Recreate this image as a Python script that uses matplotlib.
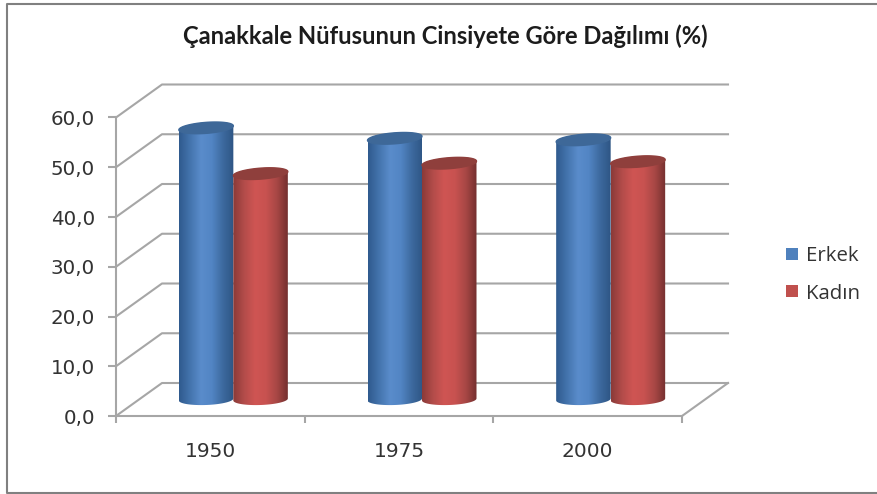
import numpy as np
import matplotlib
matplotlib.use('Agg')
import matplotlib.pyplot as plt
from matplotlib.colors import LinearSegmentedColormap
from matplotlib.patches import Patch, PathPatch
from matplotlib.path import Path

years = ['1950', '1975', '2000']
erkek = [54.6, 52.5, 52.2]
kadin = [45.4, 47.5, 47.8]
yticks = [0, 10, 20, 30, 40, 50, 60]
ylabels = ['0,0', '10,0', '20,0', '30,0', '40,0', '50,0', '60,0']
title = 'Çanakkale Nüfusunun Cinsiyete Göre Dağılımı (%)'

W, H = 877, 494
fig = plt.figure(figsize=(W / 100, H / 100), dpi=100)
ax = fig.add_axes([116 / W, (H - 416) / H, 566 / W, 298.5 / H])
ax.set_facecolor('none')

# depth of the fake 3d box, in data units
dx = 46 / 566 * 3
dy = 33 / 298.5 * 60
bar_w = 54.5 / 566 * 3
rx = bar_w / 2
ry = 5.5 / 298.5 * 60
shear = 2 / 298.5 * 60
GRID = '#a6a6a6'
LW = 1.5

for v in yticks:
    ax.plot([0, dx, 3 + dx], [v, v + dy, v + dy], color=GRID, lw=LW, clip_on=False, zorder=1)
ax.plot([3, 3 + dx], [0, dy], color=GRID, lw=LW, clip_on=False, zorder=1)


def cylinder(x0, val, colors, top):
    t = np.linspace(np.pi, 2 * np.pi, 40)
    cy = dy / 2
    bx = x0 + rx * np.cos(t)
    by = cy + ry * np.sin(t) + shear * 0.5 * np.cos(t)
    tx = bx[::-1]
    ty = val + dy / 2 - ry * np.sin(t)[::-1] + shear * np.cos(t)[::-1]
    verts = np.vstack([np.c_[bx, by], np.c_[tx, ty], [[bx[0], by[0]]]])
    body = PathPatch(Path(verts), fc='none', ec='none', transform=ax.transData)
    ax.add_patch(body)
    cmap = LinearSegmentedColormap.from_list('c', colors)
    grad = np.linspace(0, 1, 128).reshape(1, -1)
    im = ax.imshow(grad, cmap=cmap, aspect='auto', zorder=3,
                   extent=[x0 - rx, x0 + rx, -5, val + 15], clip_on=True)
    im.set_clip_path(body)
    t2 = np.linspace(0, 2 * np.pi, 80)
    ex = x0 + rx * np.cos(t2)
    ey = val + dy / 2 + ry * np.sin(t2) + shear * np.cos(t2)
    ax.fill(ex, ey, color=top, zorder=3, clip_on=False)


blue = ['#2f5a8e', '#4474ad', '#5a8ccb', '#5285c4', '#3d6a9f', '#2e5584']
red = ['#8a3a38', '#b34c4a', '#cf5553', '#c85250', '#a84745', '#74302f']

for i in range(len(years)):
    c = i + 0.5 + dx / 2
    cylinder(c - rx, erkek[i], blue, '#3e6898')
    cylinder(c + rx, kadin[i], red, '#8f3f3c')

ax.set_xlim(0, 3)
ax.set_ylim(0, 60)

for s in ['top', 'right']:
    ax.spines[s].set_visible(False)
for s in ['left', 'bottom']:
    ax.spines[s].set_color(GRID)
    ax.spines[s].set_linewidth(LW)
    ax.spines[s].set_zorder(4)

ax.set_yticks(yticks)
ax.set_yticklabels(ylabels, fontsize=14.3, color='#333333')
ax.tick_params(axis='y', length=6, width=LW, color=GRID, pad=9)
ax.set_xticks([0, 1, 2, 3])
ax.set_xticklabels([])
ax.set_xticks([0.5, 1.5, 2.5], minor=True)
ax.set_xticklabels(years, minor=True, fontsize=14.5, color='#333333')
ax.tick_params(axis='x', which='minor', length=0, pad=19)
ax.tick_params(axis='x', which='major', length=5, width=LW, color=GRID)

fig.text(445.5 / W, 1 - 36 / H, title, ha='center', va='center', fontsize=17.1,
         family='Lato', weight='bold', color='#1c1c1c')

handles = [Patch(fc='#4f81bd', ec='none'), Patch(fc='#c0504d', ec='none')]
fig.legend(handles, ['Erkek', 'Kadın'], loc='center left', bbox_to_anchor=(786 / W, 1 - 275 / H),
           frameon=False, prop={'family': 'Open Sans', 'size': 14.7}, labelcolor='#333333',
           borderaxespad=0, borderpad=0,
           handlelength=0.58, handleheight=0.52, handletextpad=0.38, labelspacing=0.85)

# outer chart frame, open on the right side
frame = [[W, 4.5], [6.5, 4.5], [6.5, 492.5], [W, 492.5]]
fig.add_artist(plt.Line2D([p[0] / W for p in frame], [1 - p[1] / H for p in frame],
                          color='#808080', lw=1.5, transform=fig.transFigure))

fig.savefig('out.png', dpi=100)
